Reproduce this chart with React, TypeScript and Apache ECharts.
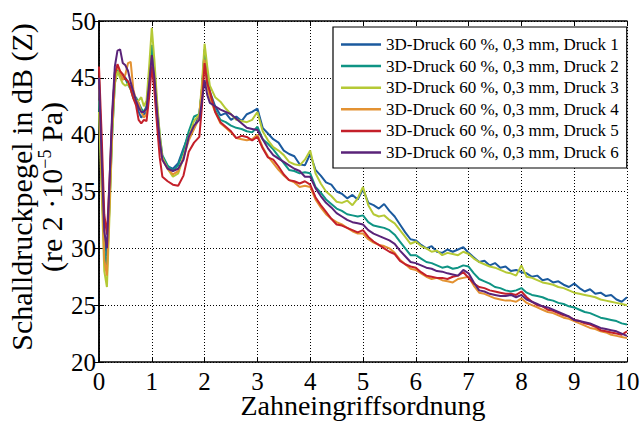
import React, { useEffect, useRef } from "react";
import * as echarts from "echarts";

const FONT = "Liberation Serif";

const seriesNames = [
  "3D-Druck 60 %, 0,3 mm, Druck 1",
  "3D-Druck 60 %, 0,3 mm, Druck 2",
  "3D-Druck 60 %, 0,3 mm, Druck 3",
  "3D-Druck 60 %, 0,3 mm, Druck 4",
  "3D-Druck 60 %, 0,3 mm, Druck 5",
  "3D-Druck 60 %, 0,3 mm, Druck 6",
];

const seriesColors = ["#1b5a9e", "#0f9484", "#b5c935", "#e39232", "#c4202a", "#5a2379"];

const xValues = [
  0, 0.05, 0.1, 0.15, 0.2, 0.25, 0.3, 0.35, 0.4, 0.45, 0.5, 0.55, 0.6, 0.65, 0.7, 0.75, 0.8, 0.85, 0.9, 0.95,
  1, 1.05, 1.1, 1.15, 1.2, 1.3, 1.4, 1.5, 1.6, 1.7, 1.8, 1.9, 1.95, 2, 2.05, 2.1,
  2.2, 2.3, 2.4, 2.5, 2.6, 2.7, 2.8, 2.9, 3, 3.1, 3.2, 3.3, 3.4, 3.5, 3.6, 3.7, 3.8, 3.9, 4, 4.1,
  4.2, 4.3, 4.4, 4.5, 4.6, 4.7, 4.8, 4.9, 5, 5.1, 5.2, 5.3, 5.4, 5.5, 5.6, 5.7, 5.8, 5.9, 6, 6.1,
  6.2, 6.3, 6.4, 6.5, 6.6, 6.7, 6.8, 6.9, 7, 7.1, 7.2, 7.3, 7.4, 7.5, 7.6, 7.7, 7.8, 7.9, 8, 8.1,
  8.2, 8.3, 8.4, 8.5, 8.6, 8.7, 8.8, 8.9, 9, 9.1, 9.2, 9.3, 9.4, 9.5, 9.6, 9.7, 9.8, 9.9, 10,
];

const druck1 = [
  44, 38, 31, 29.3, 35, 41, 45.5, 45.8, 45.5, 45.3, 45.0, 44.6, 44.2, 43.5, 42.8, 42.0, 41.5, 41.8, 42.0, 44.5,
  47.3, 45.0, 42.0, 39.5, 38.0, 37.2, 37.0, 37.5, 38.8, 40.0, 40.6, 41.8, 44.0, 47.5, 45.0, 43.8,
  42.5, 41.7, 41.9, 41.3, 41.6, 41.2, 41.8, 42.0, 42.3, 40.6,
  40.1, 39.6, 39.3, 38.6, 38.3, 38.1, 37.4, 37.3, 38.3, 36.9,
  36.4, 35.8, 35.6, 35.0, 34.8, 34.4, 34.7, 34.3, 35.2, 34.0,
  33.8, 33.5, 33.9, 33.3, 32.8, 32.1, 31.4, 30.8, 30.7, 30.3,
  30.0, 30.2, 29.7, 29.6, 29.9, 29.7, 29.9, 30.1, 29.6, 29.2,
  28.8, 28.9, 28.5, 28.7, 28.3, 28.4, 28.0, 28.1, 27.9, 27.8,
  27.5, 27.6, 27.2, 27.3, 27.0, 27.1, 26.8, 26.6, 26.9, 26.5,
  26.2, 26.4, 26.0, 26.1, 25.8, 25.9, 25.5, 25.3, 25.7,
];

const druck2 = [
  43, 36, 30, 28.1, 34, 40, 44.5, 45.8, 45.3, 44.9, 44.9, 44.4, 44.0, 43.2, 43.3, 42.8, 42.3, 42.0, 42.5, 45.0,
  47.9, 45.5, 42.5, 40.0, 38.2, 37.3, 36.8, 37.3, 38.6, 40.3, 41.6, 41.8, 44.0, 47.3, 44.5, 43.5,
  42.2, 41.3, 41.1, 40.8, 40.6, 40.5, 40.3, 40.2, 40.7, 39.6,
  39.2, 38.7, 38.1, 37.5, 36.9, 36.8, 36.6, 36.7, 36.6, 35.4,
  34.9, 34.3, 33.9, 33.5, 33.3, 33.0, 32.9, 32.8, 32.9, 32.3,
  32.0, 31.9, 31.8, 31.6, 31.2, 30.6, 30.0, 29.4, 29.4, 29.1,
  28.8, 28.7, 28.5, 28.3, 28.4, 28.2, 28.3, 28.5, 28.4, 27.8,
  27.3, 27.1, 26.9, 26.6, 26.5, 26.3, 26.2, 26.3, 26.5, 26.1,
  25.9, 25.8, 25.7, 25.5, 25.4, 25.2, 25.1, 24.9, 24.8, 24.6,
  24.4, 24.3, 24.1, 23.9, 23.8, 23.7, 23.6, 23.4, 23.3,
];

const druck3 = [
  42, 35, 28, 26.6, 33, 40, 44.5, 45.6, 45.0, 44.5, 44.3, 44.5, 44.0, 43.3, 42.8, 43.0, 43.3, 42.5, 43.0, 46.0,
  49.4, 46.5, 43.0, 40.0, 38.0, 37.0, 36.3, 36.6, 38.0, 39.8, 41.2, 41.8, 44.5, 48.0, 46.0, 44.3,
  43.3, 42.9, 42.3, 41.8, 41.3, 41.2, 41.1, 41.3, 42.0, 40.3,
  39.5, 38.9, 38.6, 38.2, 37.6, 37.4, 37.3, 37.8, 38.6, 36.6,
  35.7, 35.0, 34.6, 34.1, 34.0, 34.2, 33.8, 34.4, 35.4, 33.8,
  33.0, 32.8, 32.9, 32.5, 32.2, 31.6, 31.0, 30.4, 30.6, 30.2,
  30.0, 29.7, 29.8, 29.4, 29.6, 29.5, 29.4, 29.7, 29.5, 29.1,
  28.8, 28.6, 28.4, 28.3, 28.1, 27.9, 27.8, 27.6, 28.5, 27.5,
  27.4, 27.2, 27.0, 26.9, 26.8, 26.6, 26.5, 26.3, 26.1, 26.0,
  25.9, 25.8, 25.7, 25.5, 25.4, 25.3, 25.2, 25.1, 25.0,
];

const druck4 = [
  45, 37, 29, 27.6, 34, 41, 45.4, 46.0, 45.5, 44.8, 45.3, 46.3, 46.4, 44.0, 43.0, 42.8, 42.0, 41.5, 41.8, 44.0,
  46.8, 44.5, 41.5, 39.3, 37.8, 37.0, 36.5, 36.8, 38.0, 39.5, 40.5, 41.5, 44.0, 46.6, 44.3, 43.2,
  42.0, 41.0, 40.6, 40.2, 39.7, 39.6, 39.5, 39.6, 40.0, 38.9,
  38.1, 37.5, 36.9, 36.4, 36.0, 35.8, 35.4, 35.5, 35.4, 34.3,
  33.6, 33.0, 32.6, 32.3, 32.1, 31.8, 31.5, 31.3, 31.3, 30.8,
  30.5, 30.3, 30.2, 30.0, 29.6, 29.0, 28.6, 28.2, 28.1, 27.8,
  27.5, 27.3, 27.4, 27.2, 27.1, 27.0, 27.3, 27.4, 27.5, 26.7,
  26.1, 26.0, 25.8, 25.6, 25.5, 25.4, 25.4, 25.3, 25.6, 25.2,
  25.0, 24.8, 24.6, 24.4, 24.3, 24.1, 23.9, 23.8, 23.6, 23.4,
  23.2, 23.0, 22.9, 22.7, 22.6, 22.4, 22.3, 22.2, 22.1,
];

const druck5 = [
  46, 40, 33, 31.2, 36, 41.5, 45.3, 46.2, 45.6, 45.3, 44.9, 44.7, 44.0, 43.2, 42.6, 41.3, 41.0, 41.3, 41.2, 43.3,
  46.0, 43.8, 40.8, 38.0, 36.3, 35.9, 35.6, 35.5, 36.4, 38.5, 39.3, 39.8, 42.5, 46.3, 44.5, 43.8,
  42.0, 41.1, 40.7, 40.3, 39.7, 39.9, 39.8, 39.5, 39.8, 38.8,
  38.0, 37.8, 37.2, 36.5, 36.0, 35.9, 35.7, 35.9, 35.6, 34.5,
  33.8, 33.2, 32.6, 32.1, 32.0, 31.8, 31.6, 31.4, 31.6, 31.0,
  30.6, 30.3, 30.0, 29.7, 29.5, 28.9, 28.6, 28.4, 28.3, 27.9,
  27.6, 27.5, 27.4, 27.4, 27.3, 27.5, 27.6, 27.9, 27.4, 26.9,
  26.6, 26.5, 26.3, 26.2, 26.1, 26.0, 26.0, 25.9, 26.2, 25.7,
  25.3, 25.0, 24.9, 24.6, 24.5, 24.3, 24.1, 24.0, 23.7, 23.6,
  23.4, 23.3, 23.1, 22.8, 22.7, 22.6, 22.5, 22.4, 22.7,
];

const druck6 = [
  45, 38, 31.5, 30.0, 36, 42, 46, 47.4, 47.5, 46.3, 46.1, 45.6, 44.6, 43.8, 43.0, 42.4, 42.0, 42.0, 42.3, 44.5,
  47.0, 45.0, 42.0, 39.5, 37.8, 37.0, 36.8, 37.0, 37.8, 39.8, 40.8, 41.3, 43.0, 44.8, 43.5, 42.8,
  42.5, 42.2, 42.0, 41.8, 41.4, 41.0, 40.6, 40.5, 40.4, 39.6,
  38.8, 38.2, 37.9, 37.6, 37.3, 37.0, 36.8, 36.3, 36.3, 35.3,
  34.6, 34.0, 33.6, 33.1, 32.8, 32.5, 32.3, 32.2, 32.1, 31.6,
  31.3, 31.1, 30.9, 30.7, 30.4, 29.8, 29.3, 28.8, 28.7, 28.5,
  28.3, 28.2, 28.0, 27.95, 27.8, 27.7, 27.6, 28.1, 27.8, 27.0,
  26.3, 26.2, 26.0, 25.9, 25.8, 25.8, 25.9, 25.7, 25.9, 25.5,
  25.3, 25.1, 24.9, 24.8, 24.6, 24.4, 24.2, 24.0, 23.7, 23.6,
  23.5, 23.4, 23.2, 23.0, 22.9, 22.8, 22.7, 22.5, 22.3,
];

const allSeries = [druck1, druck2, druck3, druck4, druck5, druck6];

const yTitleLine1 = "Schalldruckpegel in dB (Z)";
const yTitleLine2a = "(re 2 ·10";
const yTitleSup = "−5";
const yTitleLine2b = " Pa)";
const xTitle = "Zahneingriffsordnung";

export default function App() {
  const ref = useRef<HTMLDivElement>(null);
  useEffect(() => {
    document.body.style.margin = "0";
    if (!ref.current) return;
    const chart = echarts.init(ref.current, null, { renderer: "svg" });
    const gridLine = { show: true, lineStyle: { color: "#000", width: 1, type: [1, 2] as any } };
    const option: any = {
      animation: false,
      backgroundColor: "#fff",
      textStyle: { fontFamily: FONT },
      grid: { left: 99, top: 21, right: 14, bottom: 59, containLabel: false, outerBoundsMode: "none" },
      legend: {
        orient: "vertical",
        left: 333,
        top: 27,
        padding: [9, 8, 7, 8],
        icon: "rect",
        itemWidth: 40,
        itemHeight: 2.5,
        itemGap: 4.6,
        backgroundColor: "#fff",
        borderColor: "#000",
        borderWidth: 1.2,
        borderRadius: 0,
        textStyle: { fontFamily: FONT, fontSize: 17, lineHeight: 17, color: "#000" },
        data: seriesNames,
      },
      graphic: [
        {
          type: "text",
          x: 36,
          y: 187,
          rotation: Math.PI / 2,
          silent: true,
          style: {
            text: `{a|${yTitleLine1}}\n{a|${yTitleLine2a}}{sup|${yTitleSup}}{a|${yTitleLine2b}}`,
            align: "center",
            verticalAlign: "middle",
            fill: "#000",
            font: `30px ${FONT}`,
            rich: {
              a: { fontFamily: FONT, fontSize: 30, fill: "#000", lineHeight: 30 },
              sup: { fontFamily: FONT, fontSize: 18, fill: "#000", lineHeight: 30, verticalAlign: "top", padding: [0, 0, 12, 0] },
            },
          },
        },
      ],
      xAxis: [
        {
          type: "value",
          min: 0,
          max: 10,
          interval: 1,
          position: "bottom",
          name: xTitle,
          nameLocation: "middle",
          nameGap: 31,
          nameMoveOverlap: false,
          nameTextStyle: { fontFamily: FONT, fontSize: 28, lineHeight: 25, color: "#000" },
          axisLine: { show: true, lineStyle: { color: "#000", width: 1.5 } },
          axisTick: { show: true, inside: true, length: 5, lineStyle: { color: "#000" } },
          axisLabel: { fontFamily: FONT, fontSize: 25, lineHeight: 20, color: "#000", margin: 9 },
          splitLine: gridLine,
        },
        {
          type: "value",
          min: 0,
          max: 10,
          interval: 1,
          position: "top",
          axisLine: { show: true, lineStyle: { color: "#000", width: 1.5 } },
          axisTick: { show: true, inside: true, length: 5, lineStyle: { color: "#000" } },
          axisLabel: { show: false },
          splitLine: { show: false },
        },
      ],
      yAxis: [
        {
          type: "value",
          min: 20,
          max: 50,
          interval: 5,
          position: "left",
          axisLine: { show: true, lineStyle: { color: "#000", width: 1.5 } },
          axisTick: { show: true, inside: true, length: 5, lineStyle: { color: "#000" } },
          axisLabel: { fontFamily: FONT, fontSize: 25, color: "#000", margin: 3 },
          splitLine: gridLine,
        },
        {
          type: "value",
          min: 20,
          max: 50,
          interval: 5,
          position: "right",
          axisLine: { show: true, lineStyle: { color: "#000", width: 1.5 } },
          axisTick: { show: true, inside: true, length: 5, lineStyle: { color: "#000" } },
          axisLabel: { show: false },
          splitLine: { show: false },
        },
      ],
      series: allSeries.map((vals, si) => ({
        name: seriesNames[si],
        type: "line",
        xAxisIndex: 0,
        yAxisIndex: 0,
        symbol: "none",
        showSymbol: false,
        color: seriesColors[si],
        lineStyle: { color: seriesColors[si], width: 2 },
        data: xValues.map((x, i) => [x, vals[i]]),
        z: 2,
      })),
    };
    chart.setOption(option);
    return () => chart.dispose();
  }, []);
  return <div ref={ref} style={{ width: 641, height: 421 }} />;
}
